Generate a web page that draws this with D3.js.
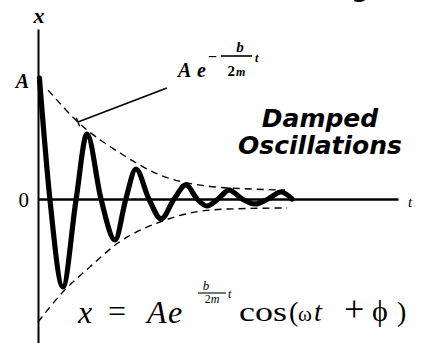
<!DOCTYPE html>
<html>
<head>
<meta charset="utf-8">
<script src="https://cdn.jsdelivr.net/npm/d3@7"></script>
<style>
  html, body { margin: 0; padding: 0; background: #fff; }
  svg { display: block; }
  .serif { font-family: "Liberation Serif", "DejaVu Serif", serif; }
  .sans { font-family: "DejaVu Sans", sans-serif; }
</style>
</head>
<body>
<svg id="chart" width="425" height="343"></svg>
<script>
// Displacement x(t) of the damped oscillator: extrema and zero crossings
const curveT = [0.04, 0.33, 0.69, 1.06, 1.36, 1.75, 2.14, 2.44, 2.72, 3.08, 3.42,
                3.78, 4.11, 4.42, 4.69, 5.0, 5.31, 5.67, 6.03, 6.39, 6.75, 7.06];
const curveX = [1.0, 0, -0.727, 0, 0.537, 0, -0.339, 0, 0.248, 0, -0.165,
                0, 0.116, 0, -0.058, 0, 0.074, 0, -0.041, 0, 0.058, 0];

// Envelope  ±A e^(-bt/2m)
const envUpperT = [0.28, 1.11, 2.28, 3.39, 4.69, 5.89, 6.86];
const envUpperX = [0.90, 0.636, 0.38, 0.198, 0.107, 0.083, 0.074];
const envLowerT = [0.0, 0.69, 1.44, 2.22, 3.39, 4.22, 5.25, 6.92];
const envLowerX = [-1.017, -0.769, -0.562, -0.364, -0.19, -0.116, -0.083, -0.074];

// Leader from the envelope label to the envelope
const leaderT = [1.11, 3.58];
const leaderX = [0.636, 0.917];

// Axis tick labels
const tickValues = [1, 0];
const tickLabels = ["A", "0"];

const svg = d3.select("#chart");
svg.append("rect").attr("width", 425).attr("height", 343).attr("fill", "#fff");

const x = d3.scaleLinear().domain([0, 10]).range([38, 398]);
const y = d3.scaleLinear().domain([0, 1]).range([199, 78]);

// vertical x-axis spans the full height below its label
const yAxisScale = y.copy().domain([y.invert(343), y.invert(29)]).range([343, 29]);

const gY = svg.append("g").attr("transform", `translate(${x(0)},0)`)
  .call(d3.axisLeft(yAxisScale).tickValues([]).tickSizeOuter(0));
gY.select(".domain").attr("stroke", "#000").attr("stroke-width", 2);

const gX = svg.append("g").attr("transform", `translate(0,${y(0)})`)
  .call(d3.axisBottom(x).tickValues([]).tickSizeOuter(0));
gX.select(".domain").attr("stroke", "#000").attr("stroke-width", 2.6);

// tick labels
svg.selectAll("text.tick-label")
  .data(tickValues)
  .join("text")
  .attr("class", "tick-label serif")
  .attr("x", 29)
  .attr("y", d => y(d) + (d === 1 ? 10 : 8))
  .attr("text-anchor", "end")
  .attr("font-size", d => d === 1 ? 20 : 21)
  .attr("font-style", d => d === 1 ? "italic" : "normal")
  .attr("font-weight", d => d === 1 ? "bold" : "normal")
  .text((d, i) => tickLabels[i]);

// axis names
svg.append("text").attr("class", "serif")
  .attr("x", x(0) + 1).attr("y", 23).attr("text-anchor", "middle")
  .attr("font-size", 22).attr("font-style", "italic").attr("font-weight", "bold")
  .text("x");
svg.append("text").attr("class", "serif")
  .attr("x", 408).attr("y", 207)
  .attr("font-size", 15).attr("font-style", "italic")
  .text("t");

// descender of the heading above the frame
svg.append("text").attr("class", "sans")
  .attr("x", 360).attr("y", -3).attr("text-anchor", "middle")
  .attr("font-size", 24).attr("font-weight", "bold")
  .text("g");

// envelope (dashed)
const envLine = d3.line().x(d => x(d[0])).y(d => y(d[1])).curve(d3.curveMonotoneX);
[[envUpperT, envUpperX], [envLowerT, envLowerX]].forEach(([ts, xs]) => {
  svg.append("path")
    .datum(ts.map((t, i) => [t, xs[i]]))
    .attr("d", envLine)
    .attr("fill", "none")
    .attr("stroke", "#000")
    .attr("stroke-width", 1.4)
    .attr("stroke-dasharray", "7,5");
});

// damped oscillation
svg.append("path")
  .datum(curveT.map((t, i) => [t, curveX[i]]))
  .attr("d", d3.line().x(d => x(d[0])).y(d => y(d[1])).curve(d3.curveMonotoneX))
  .attr("fill", "none")
  .attr("stroke", "#000")
  .attr("stroke-width", 5.2)
  .attr("stroke-linejoin", "round")
  .attr("stroke-linecap", "round");

// leader line with a small cross-tick at the envelope end
const lx0 = x(leaderT[0]), ly0 = y(leaderX[0]);
const lx1 = x(leaderT[1]), ly1 = y(leaderX[1]);
svg.append("line")
  .attr("x1", lx0).attr("y1", ly0).attr("x2", lx1).attr("y2", ly1)
  .attr("stroke", "#000").attr("stroke-width", 1.6);
{
  const dx = lx1 - lx0, dy = ly1 - ly0, len = Math.hypot(dx, dy);
  const px = -dy / len * 4.5, py = dx / len * 4.5;
  svg.append("line")
    .attr("x1", lx0 - px).attr("y1", ly0 - py)
    .attr("x2", lx0 + px).attr("y2", ly0 + py)
    .attr("stroke", "#000").attr("stroke-width", 1.4);
}

// envelope label  A e^(-b t / 2m)
const lbl = svg.append("g").attr("class", "serif").attr("font-weight", "bold");
lbl.append("text").attr("x", 178).attr("y", 77).attr("font-size", 20)
  .attr("font-style", "italic").text("A");
lbl.append("text").attr("x", 197).attr("y", 77).attr("font-size", 20)
  .attr("font-style", "italic").text("e");
lbl.append("text").attr("x", 212.5).attr("y", 62).attr("font-size", 16)
  .attr("text-anchor", "middle").text("−");
lbl.append("line").attr("x1", 221).attr("x2", 252).attr("y1", 56).attr("y2", 56)
  .attr("stroke", "#000").attr("stroke-width", 1.6);
lbl.append("text").attr("x", 240).attr("y", 52).attr("font-size", 15)
  .attr("font-style", "italic").attr("text-anchor", "middle").text("b");
const den = lbl.append("text").attr("x", 236.5).attr("y", 76).attr("font-size", 15)
  .attr("text-anchor", "middle");
den.append("tspan").text("2");
den.append("tspan").attr("font-size", 12).attr("font-style", "italic").attr("dx", 1).text("m");
lbl.append("text").attr("x", 255).attr("y", 62).attr("font-size", 12)
  .attr("font-style", "italic").text("t");

// title
const title = svg.append("g").attr("class", "sans")
  .attr("font-weight", "bold").attr("font-style", "oblique")
  .attr("font-size", 25).attr("text-anchor", "middle");
title.append("text").attr("x", 320).attr("y", 127).text("Damped");
title.append("text").attr("x", 320).attr("y", 154).text("Oscillations");

// equation  x = A e^(b t / 2m) cos(ωt + ϕ)
const eq = svg.append("g").attr("class", "serif");
eq.append("text").attr("x", 85).attr("y", 323).attr("font-size", 32)
  .attr("font-style", "italic").attr("text-anchor", "middle").text("x");
eq.append("text").attr("x", 117).attr("y", 322).attr("font-size", 32)
  .attr("text-anchor", "middle").text("=");
eq.append("text").attr("x", 147).attr("y", 323).attr("font-size", 32)
  .attr("font-style", "italic").text("A");
eq.append("text").attr("x", 168).attr("y", 323).attr("font-size", 32)
  .attr("font-style", "italic").text("e");
eq.append("text").attr("x", 206).attr("y", 290).attr("font-size", 13)
  .attr("font-style", "italic").attr("text-anchor", "middle").text("b");
eq.append("line").attr("x1", 198).attr("x2", 226).attr("y1", 293).attr("y2", 293)
  .attr("stroke", "#000").attr("stroke-width", 1.1);
const den2 = eq.append("text").attr("x", 212).attr("y", 303).attr("font-size", 12)
  .attr("text-anchor", "middle");
den2.append("tspan").text("2");
den2.append("tspan").attr("font-style", "italic").text("m");
eq.append("text").attr("x", 228).attr("y", 298).attr("font-size", 12)
  .attr("font-style", "italic").text("t");
eq.append("text").attr("x", 239).attr("y", 321).attr("font-size", 28)
  .attr("textLength", 48).attr("lengthAdjust", "spacingAndGlyphs").text("cos");
// argument of the cosine: [glyph, left edge, size, style]
const arg = eq.append("text").attr("y", 321).attr("font-size", 28);
[["(", 289, 28, "normal"], ["ω", 298, 21, "normal"], ["t", 314, 28, "italic"],
 ["+", 344, 36, "normal"], ["ϕ", 372, 30, "normal"], [")", 397, 28, "normal"]].forEach(([s, lx, fs, st]) => {
  arg.append("tspan").attr("x", lx).attr("font-size", fs).attr("font-style", st).text(s);
});
</script>
</body>
</html>
